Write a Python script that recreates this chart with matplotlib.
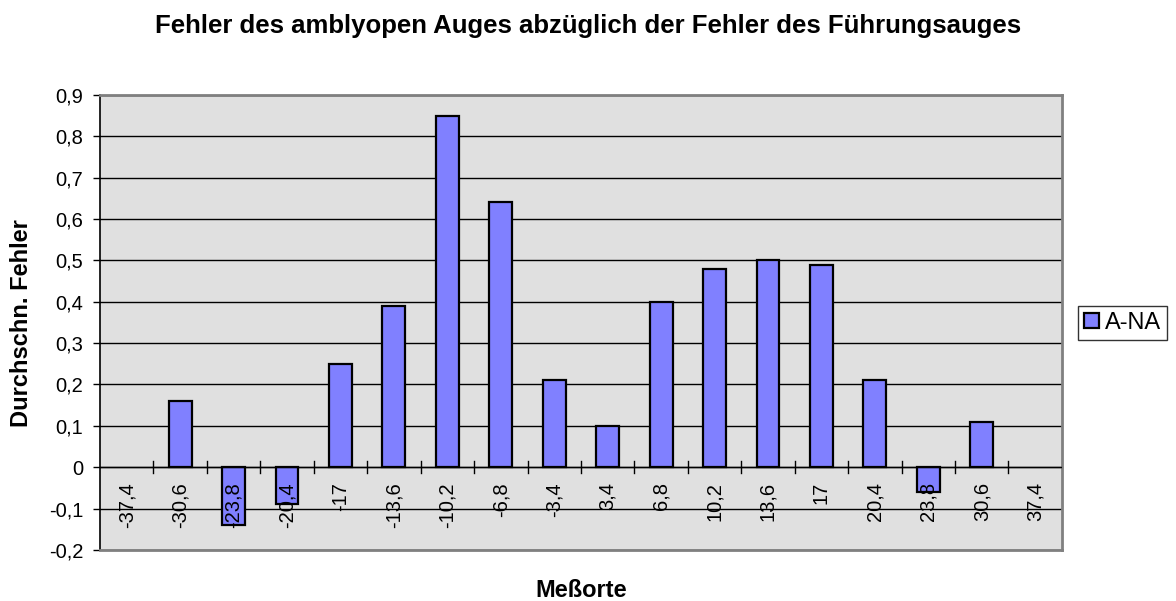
import numpy as np
import matplotlib.pyplot as plt

plt.rcParams['font.family'] = ['Liberation Sans', 'DejaVu Sans']

# Meßorte und mittlere Fehlerdifferenz (A - NA)
orte = ['-37,4', '-30,6', '-23,8', '-20,4', '-17', '-13,6', '-10,2', '-6,8', '-3,4',
        '3,4', '6,8', '10,2', '13,6', '17', '20,4', '23,8', '30,6', '37,4']
werte = [0, 0.16, -0.14, -0.09, 0.25, 0.39, 0.85, 0.64, 0.21,
         0.10, 0.40, 0.48, 0.50, 0.49, 0.21, -0.06, 0.11, 0]
yticks = [-0.2, -0.1, 0, 0.1, 0.2, 0.3, 0.4, 0.5, 0.6, 0.7, 0.8, 0.9]

fig = plt.figure(figsize=(11.76, 6.01), dpi=100)
ax = fig.add_axes([0.085, 0.085, 0.818, 0.757])
ax.set_facecolor('#e0e0e0')

x = np.arange(len(orte))
lw = [0 if v == 0 else 1.6 for v in werte]
ax.bar(x, werte, width=0.43, color='#8080ff', edgecolor='black', linewidth=lw,
       label='A-NA', zorder=3)

ax.set_xlim(-0.5, len(orte) - 0.5)
ax.set_ylim(-0.2, 0.9)
ax.set_yticks(yticks)
ax.set_yticklabels([('%.1f' % v).replace('.', ',') if v != 0 else '0' for v in yticks],
                   fontsize=14.5)
ax.yaxis.grid(True, color='black', linewidth=1, zorder=1)
ax.tick_params(axis='y', length=5, width=1, color='black', pad=7)

# Kategorieachse bei y = 0
ax.axhline(0, color='black', linewidth=1, zorder=4)
ax.set_xticks([])
for b in np.arange(0.5, len(orte) - 1, 1):
    ax.plot([b, b], [-0.0145, 0.0145], color='black', linewidth=1, zorder=4)
for xi, lab in zip(x, orte):
    ax.text(xi, -0.036, lab, rotation=90, ha='center', va='top', fontsize=14.5, zorder=5)

for s in ['top', 'right', 'bottom']:
    ax.spines[s].set_color('#808080')
    ax.spines[s].set_linewidth(2)
ax.spines['left'].set_color('black')
ax.spines['left'].set_linewidth(1.2)

fig.text(0.5, 0.945, 'Fehler des amblyopen Auges abzüglich der Fehler des Führungsauges',
         ha='center', va='baseline', fontsize=18.5, fontweight='bold')
fig.text(0.494, 0.006, 'Meßorte', ha='center', va='baseline', fontsize=17, fontweight='bold')
fig.text(0.018, 0.463, 'Durchschn. Fehler', ha='center', va='center', rotation=90,
         fontsize=17, fontweight='bold')

leg = fig.legend(loc='center left', bbox_to_anchor=(0.9167, 0.4626), fontsize=17,
                 frameon=True, fancybox=False, edgecolor='black', handlelength=0.63,
                 handleheight=0.63, handletextpad=0.25, borderpad=0.25,
                 borderaxespad=0)
leg.get_frame().set_linewidth(1)
for h in leg.legend_handles:
    h.set_linewidth(1.6)
    h.set_edgecolor('black')

fig.savefig('out.png', dpi=100)
